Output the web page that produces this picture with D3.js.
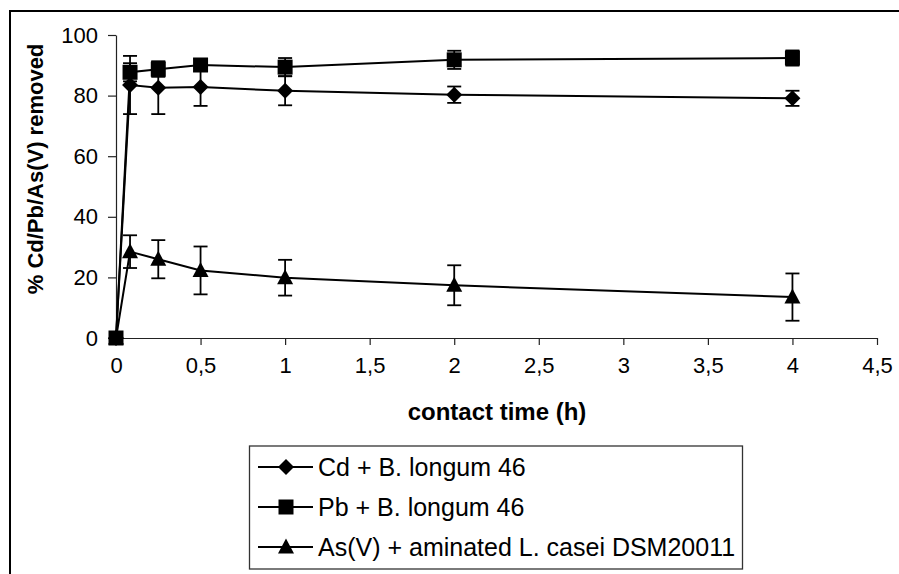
<!DOCTYPE html>
<html><head><meta charset="utf-8">
<script src="https://cdn.jsdelivr.net/npm/d3@7"></script>
<style>body{margin:0;background:#fff}svg{display:block;font-family:Arial,"Liberation Sans",sans-serif}</style>
</head><body><svg id="c" width="899" height="574"></svg>
<script>
const times = [0, 0.083, 0.25, 0.5, 1, 2, 4];
const seriesNames = ["Cd + B. longum 46", "Pb + B. longum 46", "As(V) + aminated L. casei DSM20011"];
const markers = ["diamond", "square", "triangle"];
const cdValues = [0, 83.5, 82.6, 82.8, 81.6, 80.3, 79.1];
const cdErrors = [0, 9.6, 8.7, 6.2, 4.8, 2.7, 2.5];
const pbValues = [0, 87.7, 88.7, 90.1, 89.4, 91.8, 92.4];
const pbErrors = [0, 3.0, 2.5, 2.0, 3.0, 3.0, 2.5];
const asValues = [0, 28.5, 26.0, 22.3, 19.9, 17.4, 13.5];
const asErrors = [0, 5.4, 6.3, 7.9, 5.9, 6.6, 7.8];
const xTicks = [0, 0.5, 1, 1.5, 2, 2.5, 3, 3.5, 4, 4.5];
const yTicks = [0, 20, 40, 60, 80, 100];

const svg = d3.select("#c");
// outer frame
svg.append("rect").attr("x",10).attr("y",11).attr("width",950).attr("height",650)
  .attr("fill","none").attr("stroke","#000").attr("stroke-width",2);

const x = d3.scaleLinear().domain([0,4.5]).range([116,877]);
const y = d3.scaleLinear().domain([0,100]).range([338,35]);
const fmt = d => String(d).replace(".", ",");

const gx = svg.append("g").attr("transform","translate(0,338)")
  .call(d3.axisBottom(x).tickValues(xTicks).tickFormat(fmt).tickSize(7).tickPadding(12).tickSizeOuter(0));
const gy = svg.append("g").attr("transform","translate(116,0)")
  .call(d3.axisLeft(y).tickValues(yTicks).tickSize(8).tickPadding(10).tickSizeOuter(0));
[gx,gy].forEach(g=>{
  g.select(".domain").attr("stroke","#222").attr("stroke-width",1.2);
  g.selectAll(".tick line").attr("stroke","#222").attr("stroke-width",1.2);
  g.selectAll(".tick text").attr("fill","#000").style("font-size","22px").style("font-family","Arial, 'Liberation Sans'");
});

svg.append("text").attr("x",497).attr("y",420).attr("text-anchor","middle")
  .style("font-weight","bold").style("font-size","24px").text("contact time (h)");
svg.append("text").attr("transform","translate(43,169) rotate(-90)").attr("text-anchor","middle")
  .style("font-weight","bold").style("font-size","22px").text("% Cd/Pb/As(V) removed");

function markerPath(kind){
  if(kind==="diamond") return "M0,-8L8,0L0,8L-8,0Z";
  if(kind==="square") return "M-7.5,-7.5H7.5V7.5H-7.5Z";
  return "M0,-8.5L8,6.5L-8,6.5Z";
}

const allSeries = [
  {vals: cdValues, errs: cdErrors, m: markers[0]},
  {vals: pbValues, errs: pbErrors, m: markers[1]},
  {vals: asValues, errs: asErrors, m: markers[2]}
];
const line = d3.line().x((d,i)=>x(times[i])).y(d=>y(d));
allSeries.forEach(s=>{
  const g = svg.append("g");
  s.vals.forEach((v,i)=>{
    const e = s.errs[i]; if(!e) return;
    const cx = x(times[i]);
    g.append("line").attr("x1",cx).attr("x2",cx).attr("y1",y(v+e)).attr("y2",y(v-e)).attr("stroke","#000").attr("stroke-width",1.8);
    [v+e,v-e].forEach(t=>g.append("line").attr("x1",cx-7).attr("x2",cx+7).attr("y1",y(t)).attr("y2",y(t)).attr("stroke","#000").attr("stroke-width",1.8));
  });
  g.append("path").attr("d",line(s.vals)).attr("fill","none").attr("stroke","#000").attr("stroke-width",2);
  g.selectAll(".m").data(s.vals).join("path")
    .attr("transform",(d,i)=>`translate(${x(times[i])},${y(d)})`)
    .attr("d",markerPath(s.m)).attr("fill","#000");
});

// legend
const lg = svg.append("g");
lg.append("rect").attr("x",249.5).attr("y",446).attr("width",493).attr("height",123)
  .attr("fill","#fff").attr("stroke","#333").attr("stroke-width",1.3);
seriesNames.forEach((n,i)=>{
  const cy = 467 + i*40;
  lg.append("line").attr("x1",258).attr("x2",313).attr("y1",cy).attr("y2",cy).attr("stroke","#000").attr("stroke-width",1.8);
  lg.append("path").attr("transform",`translate(286,${cy})`).attr("d",markerPath(markers[i])).attr("fill","#000");
  lg.append("text").attr("x",318).attr("y",cy+9).style("font-size","25px").text(n);
});
</script></body></html>
